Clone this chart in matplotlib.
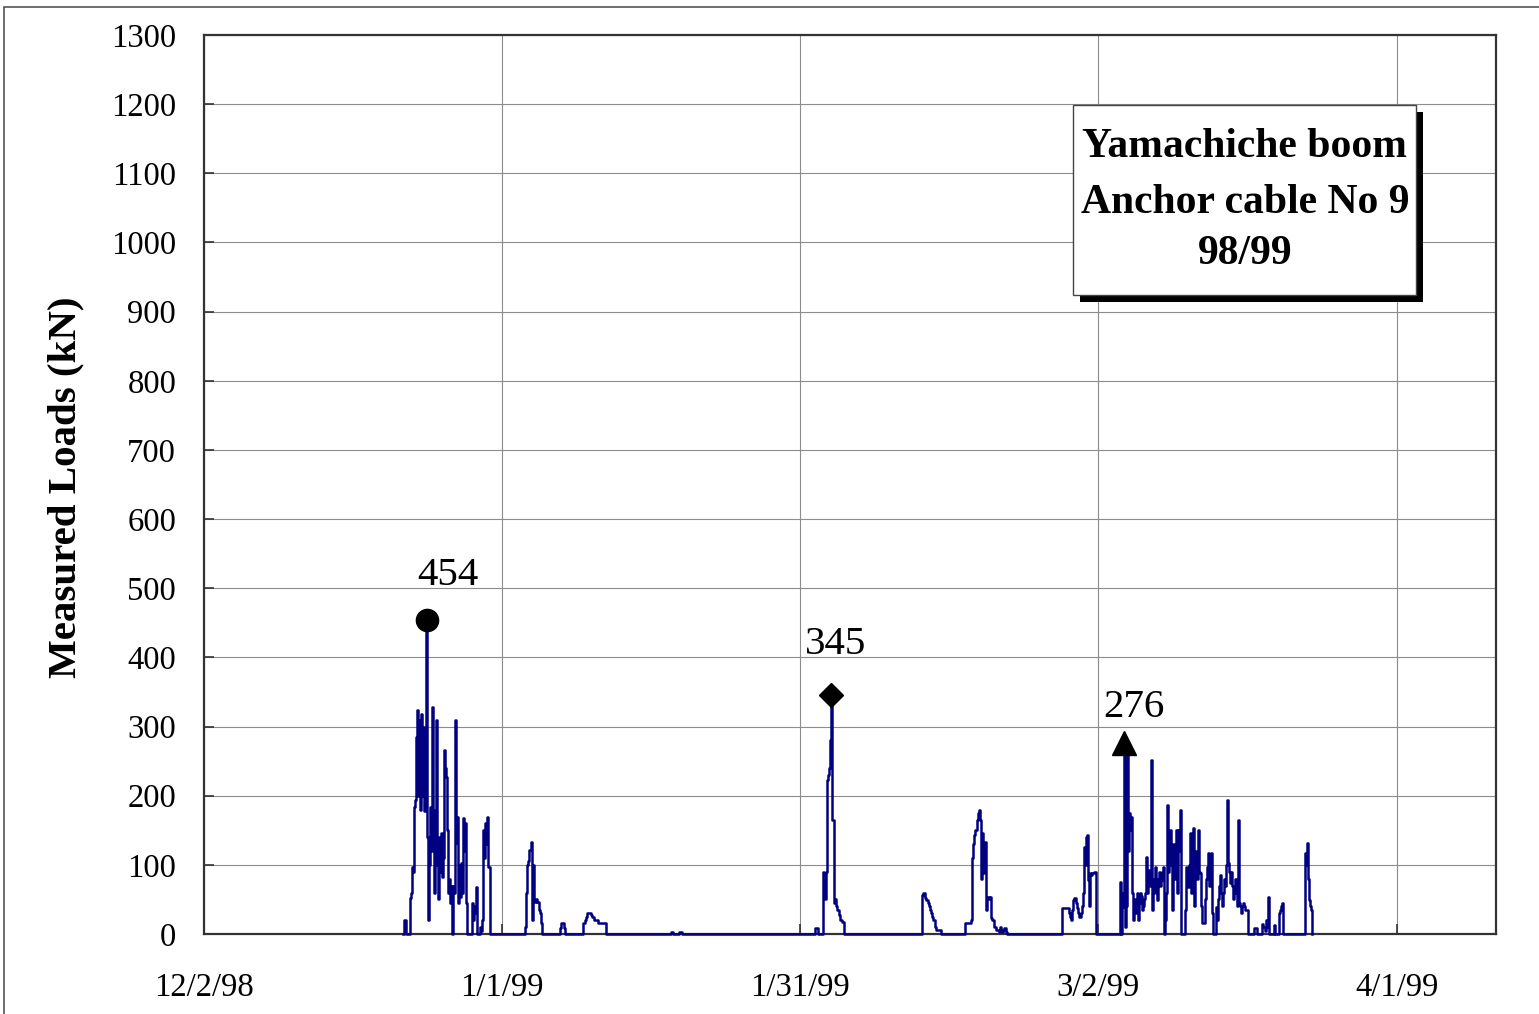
import numpy as np
import matplotlib
matplotlib.use("Agg")
import matplotlib.pyplot as plt
import matplotlib.dates as mdates
from matplotlib.patches import Rectangle
from datetime import datetime

plt.rcParams['font.family'] = ['Liberation Serif', 'DejaVu Serif']

# ---------------------------------------------------------------------------
# Anchor cable No 9 load record, winter 98/99.
# Each burst: start time (days after 12/2/98) and loads (kN) logged every 0.1 day.
# ---------------------------------------------------------------------------
ORIGIN = datetime(1998, 12, 2)
STEP_DAYS = 0.1

burst_starts = [20.0, 32.2, 35.8, 38.1, 46.9, 61.4, 62.2, 72.2, 76.5,
                86.3, 92.1, 105.6, 110.7]

loads_dec22 = [0, 0, 20, 20, 0, 0, 0, 0, 52, 59, 97, 90, 184, 194, 285, 324,
               200, 310, 180, 318, 200, 300, 178, 290, 454, 140, 20, 100, 184,
               120, 328, 180, 60, 120, 309, 100, 50, 140, 90, 146, 82, 110,
               266, 240, 227, 150, 59, 80, 45, 70, 0, 70, 60, 309, 131, 169,
               45, 100, 54, 103, 60, 168, 120, 160, 45, 0, 0, 0, 0, 0, 45, 20,
               30, 40, 68, 0, 0, 0, 10, 5, 20, 150, 110, 160, 130, 169, 97,
               97, 0]
loads_jan03 = [0, 10, 60, 88, 100, 105, 121, 121, 133, 20, 100, 46, 46, 50,
               46, 46, 35, 30, 16, 0]
loads_jan06 = [0, 8, 16, 16, 16, 8, 0]
loads_jan09 = [0, 16, 16, 20, 25, 30, 30, 30, 30, 28, 25, 25, 20, 20, 20, 20,
               16, 16, 16, 16, 16, 16, 16, 16, 0]
loads_jan17 = [0, 3, 3, 0, 0, 0, 0, 0, 0, 3, 3, 3, 0]
loads_feb01 = [0, 8, 8, 8, 0]
loads_feb02 = [0, 90, 70, 50, 90, 223, 230, 240, 280, 345, 165, 165, 45, 50,
               40, 35, 35, 28, 20, 20, 17, 17, 0]
loads_feb12 = [0, 56, 59, 59, 52, 49, 49, 45, 40, 35, 30, 25, 20, 20, 10, 6,
               6, 6, 6, 6, 0]
loads_feb16 = [0, 16, 16, 16, 16, 16, 16, 20, 110, 130, 143, 150, 150, 165,
               175, 179, 165, 80, 146, 88, 100, 133, 35, 54, 54, 50, 54, 23,
               20, 20, 10, 10, 6, 6, 6, 3, 10, 6, 3, 6, 8, 8, 3, 0]
loads_feb26 = [0, 38, 38, 38, 38, 38, 38, 38, 30, 25, 20, 35, 49, 52, 52, 45,
               38, 30, 25, 25, 30, 40, 60, 126, 100, 140, 143, 78, 40, 88, 85,
               88, 88, 90, 90, 0]
loads_mar04 = [0, 75, 0, 39, 60, 276, 10, 40, 276, 120, 175, 150, 169, 59, 20,
               50, 40, 30, 59, 20, 45, 60, 55, 35, 40, 50, 60, 111, 60, 80, 93,
               70, 252, 35, 60, 80, 97, 60, 49, 80, 90, 70, 78, 90, 97, 0, 20,
               60, 187, 90, 120, 150, 100, 35, 90, 130, 100, 80, 150, 60, 150,
               120, 179, 0, 0, 0, 0, 35, 97, 80, 68, 100, 146, 60, 100, 153,
               40, 120, 100, 80, 150, 90, 88, 40, 16, 16, 16, 50, 80, 97, 117,
               70, 100, 117, 30, 0, 0, 0, 39, 20, 50, 70, 85, 60, 40, 60, 80,
               70, 100, 194, 103, 90, 74, 90, 70, 50, 60, 80, 60, 40, 165, 45,
               40, 30, 40, 45, 40, 35, 35, 35, 0]
loads_mar17 = [0, 8, 8, 8, 0, 0, 0, 0, 0, 15, 10, 10, 5, 20, 10, 54, 0, 0, 0,
               0, 0, 13, 0, 0, 0, 0, 30, 35, 40, 45, 0]
loads_mar22 = [0, 117, 100, 131, 80, 49, 40, 35, 0]

bursts = [loads_dec22, loads_jan03, loads_jan06, loads_jan09, loads_jan17,
          loads_feb01, loads_feb02, loads_feb12, loads_feb16, loads_feb26,
          loads_mar04, loads_mar17, loads_mar22]

# seasonal peaks, labelled on the chart
peak_values = [454, 345, 276]
peak_bursts = [0, 6, 10]
peak_markers = ['o', 'D', '^']
peak_sizes = [16, 12, 17]
label_offsets = [(21, 45), (5, 51), (10, 36)]

x_ticks = ['12/2/98', '1/1/99', '1/31/99', '3/2/99', '4/1/99']
y_ticks = list(range(0, 1301, 100))

title_lines = ['Yamachiche boom', 'Anchor cable No 9', '98/99']

# ---------------------------------------------------------------------------
t0 = mdates.date2num(ORIGIN)
times, loads = [], []
for start, vals in zip(burst_starts, bursts):
    times.extend(t0 + start + STEP_DAYS * np.arange(len(vals)))
    loads.extend(vals)
times = np.array(times)
loads = np.array(loads, dtype=float)

W, H = 1539, 1014
fig = plt.figure(figsize=(W / 100, H / 100), dpi=100)
ax = fig.add_axes([204 / W, 1 - 934 / H, (1496 - 204) / W, (934 - 35) / H])

ax.plot(times, loads, color='#000080', lw=1.8, drawstyle='steps-mid',
        zorder=4, clip_on=False)

for val, bi, mk, ms, off in zip(peak_values, peak_bursts, peak_markers,
                                peak_sizes, label_offsets):
    vals = np.array(bursts[bi])
    idx = int(np.where(vals == val)[0][0])
    tx = t0 + burst_starts[bi] + STEP_DAYS * idx
    ax.plot([tx], [val], marker=mk, ms=ms, color='black', zorder=5,
            clip_on=False)
    ax.annotate(str(val), (tx, val), xytext=off, textcoords='offset pixels',
                ha='center', va='center', fontsize=29.5, color='black')

tick_dates = [t0 + 30 * i for i in range(len(x_ticks))]
ax.set_xlim(t0, t0 + 130)
ax.set_ylim(0, 1300)
ax.set_xticks(tick_dates)
ax.set_xticklabels(x_ticks)
ax.set_yticks(y_ticks)
ax.set_yticklabels([str(v) for v in y_ticks])

ax.grid(True, color='#8c8c8c', lw=0.8)
ax.set_axisbelow(True)
ax.tick_params(direction='in', length=7, width=1.2, color='#333333',
               labelsize=23.5, labelcolor='black')
ax.tick_params(axis='x', pad=28)
ax.tick_params(axis='y', pad=20)
for sp in ax.spines.values():
    sp.set_color('#333333')
    sp.set_linewidth(1.6)

fig.text(66 / W, 1 - 487 / H, 'Measured Loads (kN)', rotation=90,
         ha='center', va='center', fontsize=29.5, fontweight='bold')

# title box with drop shadow
bx0, by0, bw, bh = 1073, 295, 343, 190
fig.patches.append(Rectangle(((bx0 + 7) / W, 1 - (by0 + 7) / H), bw / W, bh / H,
                             transform=fig.transFigure, facecolor='black',
                             edgecolor='none', zorder=6))
fig.patches.append(Rectangle((bx0 / W, 1 - by0 / H), bw / W, bh / H,
                             transform=fig.transFigure, facecolor='white',
                             edgecolor='#444444', lw=1.0, zorder=7))
for txt, ycen in zip(title_lines, [147, 203, 254]):
    fig.text(1245 / W, 1 - ycen / H, txt, ha='center', va='center',
             fontsize=30, fontweight='bold', zorder=8)

# outer chart-area border
fig.patches.append(Rectangle((4 / W, -0.1), 2.0, 1 - 7 / H + 0.1,
                             transform=fig.transFigure, facecolor='none',
                             edgecolor='#555555', lw=1.2, zorder=1))

fig.savefig('out.png', dpi=100)
